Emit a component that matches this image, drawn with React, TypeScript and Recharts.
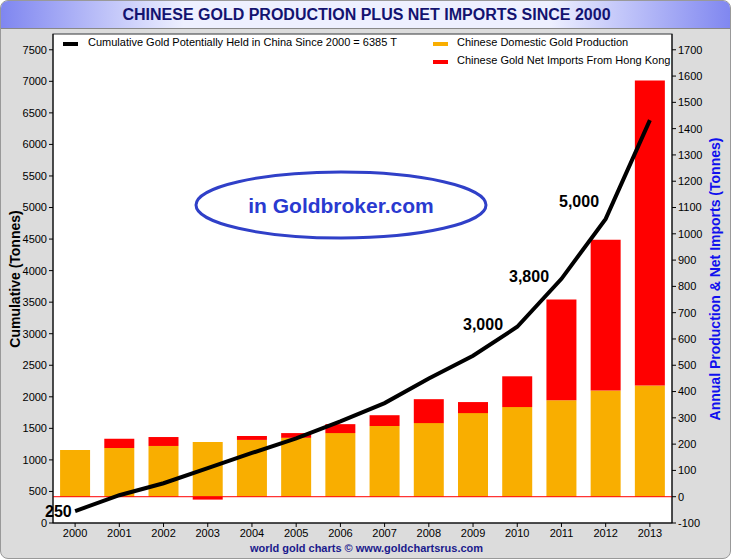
import React from 'react'
import { ComposedChart, Bar, Line, XAxis, YAxis, CartesianGrid, ReferenceLine } from 'recharts'

const years = ['2000', '2001', '2002', '2003', '2004', '2005', '2006', '2007', '2008', '2009', '2010', '2011', '2012', '2013']
const production = [178, 185, 193, 208, 216, 224, 242, 269, 280, 318, 341, 367, 404, 423]
const netImports = [0, 35, 34, -11, 15, 18, 34, 41, 91, 42, 117, 383, 573, 1160]
const cumulative = [190, 440, 630, 870, 1110, 1340, 1610, 1900, 2290, 2650, 3110, 3870, 4820, 6385]
const leftTicks = [0, 500, 1000, 1500, 2000, 2500, 3000, 3500, 4000, 4500, 5000, 5500, 6000, 6500, 7000, 7500]
const rightTicks = [-100, 0, 100, 200, 300, 400, 500, 600, 700, 800, 900, 1000, 1100, 1200, 1300, 1400, 1500, 1600, 1700]

const data = years.map((y, i) => ({ year: y, prod: production[i], imp: netImports[i], cum: cumulative[i] }))

const font = '"Liberation Sans", Arial, sans-serif'
const tick = { fontSize: 11, fill: '#000', fontFamily: font }

const notes = [
  { text: '250', x: 44, y: 512 },
  { text: '3,000', x: 462, y: 325 },
  { text: '3,800', x: 508, y: 277 },
  { text: '5,000', x: 558, y: 202 },
]

export default function App() {
  return (
    <div style={{ position: 'absolute', left: 0, top: 0, width: 731, height: 559, fontFamily: font,
      background: '#dcdcdc', border: '1px solid #999', borderRadius: 8, boxSizing: 'border-box', overflow: 'hidden' }}>
      <div style={{ position: 'absolute', left: 0, top: 0, width: 731, height: 27,
        background: 'linear-gradient(to right, #7f86f0, #eef0ff 25%, #eef0ff 75%, #7f86f0)',
        borderBottom: '1px solid #888', textAlign: 'center', fontWeight: 'bold', fontSize: 16,
        color: '#131370', lineHeight: '27px' }}>
        CHINESE GOLD PRODUCTION PLUS NET IMPORTS SINCE 2000
      </div>
      <ComposedChart width={731} height={559} data={data} barCategoryGap="16%" stackOffset="sign"
        margin={{ top: 34, right: 0, bottom: 16, left: 8 }} style={{ position: 'absolute', left: -1, top: -1 }}>
        <rect x={53} y={34} width={619} height={489} fill="#fff" />
        <CartesianGrid stroke="#e4eef8" yAxisId="left" />
        <XAxis dataKey="year" tick={tick} height={20} tickSize={4} stroke="#000" />
        <YAxis yAxisId="left" domain={[0, 7750]} ticks={leftTicks} tick={tick} width={45} tickSize={4}
          stroke="#000" allowDataOverflow />
        <YAxis yAxisId="right" orientation="right" domain={[-100, 1760]} ticks={rightTicks} tick={tick}
          width={59} tickSize={4} stroke="#000" allowDataOverflow />
        <Bar yAxisId="right" dataKey="prod" stackId="a" fill="#f9ae00" isAnimationActive={false} />
        <Bar yAxisId="right" dataKey="imp" stackId="a" fill="#ff0000" isAnimationActive={false} />
        <ReferenceLine yAxisId="right" y={0} stroke="#ff0000" />
        <Line yAxisId="left" dataKey="cum" stroke="#000" strokeWidth={4} dot={false} isAnimationActive={false} />
        <rect x={53} y={34} width={619} height={489} fill="none" stroke="#333" />
      </ComposedChart>
      <div style={{ position: 'absolute', left: 4, top: 278, transform: 'translate(0,-50%) rotate(-90deg)',
        transformOrigin: 'center', width: 20, whiteSpace: 'nowrap', display: 'flex', justifyContent: 'center',
        fontWeight: 'bold', fontSize: 14, color: '#000' }}>Cumulative (Tonnes)</div>
      <div style={{ position: 'absolute', left: 704, top: 278, transform: 'translate(0,-50%) rotate(-90deg)',
        transformOrigin: 'center', width: 20, whiteSpace: 'nowrap', display: 'flex', justifyContent: 'center',
        fontWeight: 'bold', fontSize: 14, color: '#1010ee' }}>Annual Production &amp; Net Imports (Tonnes)</div>
      <div style={{ position: 'absolute', left: 62, top: 41, width: 15, height: 4, background: '#000' }} />
      <div style={{ position: 'absolute', left: 87, top: 35, fontSize: 11 }}>Cumulative Gold Potentially Held in China Since 2000 = 6385 T</div>
      <div style={{ position: 'absolute', left: 432, top: 41, width: 15, height: 4, background: '#f9ae00' }} />
      <div style={{ position: 'absolute', left: 456, top: 35, fontSize: 11 }}>Chinese Domestic Gold Production</div>
      <div style={{ position: 'absolute', left: 432, top: 59, width: 15, height: 4, background: '#ff0000' }} />
      <div style={{ position: 'absolute', left: 456, top: 53, fontSize: 11 }}>Chinese Gold Net Imports From Hong Kong</div>
      <svg style={{ position: 'absolute', left: 190, top: 166 }} width={300} height={76}>
        <ellipse cx={150} cy={38} rx={145} ry={33} fill="none" stroke="#3040c8" strokeWidth={3} />
        <text x={150} y={46} textAnchor="middle" fontFamily={font} fontWeight="bold" fontSize={21} fill="#2a3ad0">in Goldbroker.com</text>
      </svg>
      {notes.map(n => (
        <div key={n.text} style={{ position: 'absolute', left: n.x, top: n.y - 10, fontWeight: 'bold', fontSize: 16, color: '#000' }}>{n.text}</div>
      ))}
      <div style={{ position: 'absolute', left: 0, width: 731, top: 541, textAlign: 'center', fontSize: 11,
        fontWeight: 'bold', color: '#1a1a8c' }}>world gold charts © www.goldchartsrus.com</div>
    </div>
  )
}
